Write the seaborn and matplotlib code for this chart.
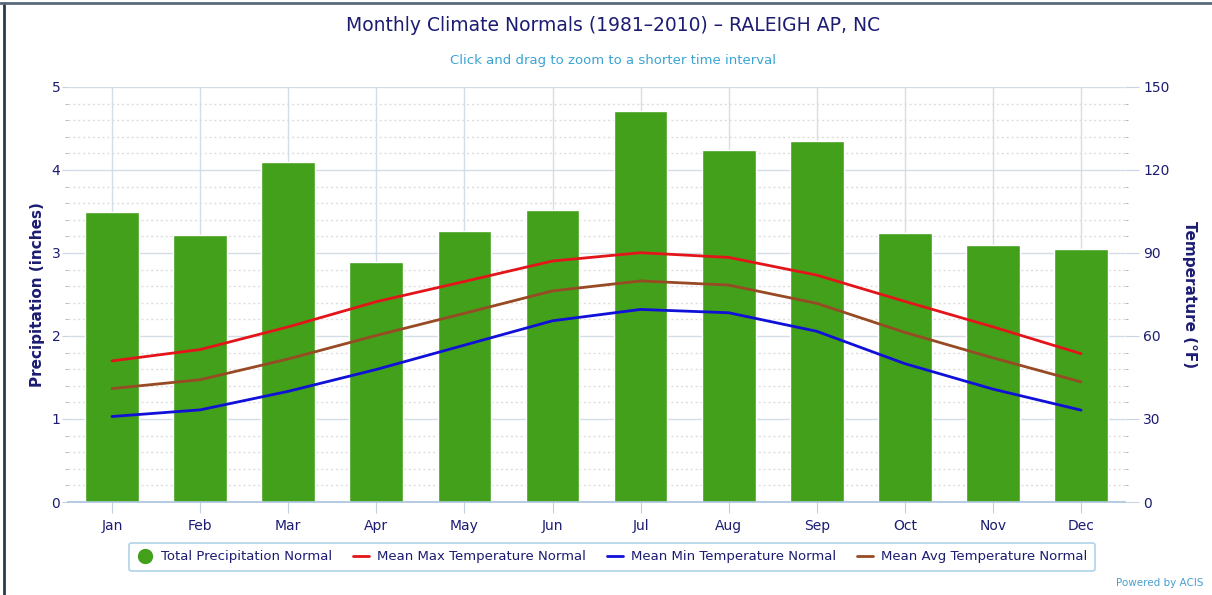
import numpy as np
import pandas as pd
import seaborn as sns
import matplotlib.pyplot as plt
from matplotlib.lines import Line2D
from matplotlib.ticker import MultipleLocator

sns.set_style("white")
plt.rcParams['font.family'] = ['DejaVu Sans']

months = ["Jan", "Feb", "Mar", "Apr", "May", "Jun",
          "Jul", "Aug", "Sep", "Oct", "Nov", "Dec"]
precip = [3.49, 3.22, 4.10, 2.89, 3.27, 3.52, 4.71, 4.24, 4.35, 3.24, 3.10, 3.05]
tmax = [51.0, 55.1, 63.3, 72.4, 79.7, 87.1, 90.1, 88.4, 82.0, 72.5, 63.3, 53.6]
tmin = [30.9, 33.3, 40.0, 47.9, 56.7, 65.5, 69.6, 68.4, 61.7, 50.0, 40.8, 33.2]
tavg = [41.0, 44.2, 51.7, 60.2, 68.2, 76.3, 79.9, 78.4, 71.8, 61.3, 52.1, 43.4]

green = "#43a01a"
red = "#e3151a"
blue = "#1010d8"
brown = "#974a24"
navy = "#1c1c72"
grid_c = "#d2dde8"

df = pd.DataFrame({"month": months, "pos": range(len(months)), "precip": precip,
                   "tmax": tmax, "tmin": tmin, "tavg": tavg})

fig = plt.figure(figsize=(12.12, 5.95), dpi=100)
ax = fig.add_axes([0.0561, 0.1563, 0.8722, 0.6975])

# precipitation bars
sns.barplot(data=df, x="month", y="precip", color=green, saturation=1,
            width=0.61, ax=ax, zorder=2)
ax.set_xlim(-0.5, len(months) - 0.5)
ax.set_ylim(0, 5)
ax.yaxis.set_major_locator(MultipleLocator(1))
ax.yaxis.set_minor_locator(MultipleLocator(0.2))
ax.set_axisbelow(True)
ax.grid(True, which="major", axis="both", color=grid_c, linewidth=1, zorder=0)
ax.grid(True, which="minor", axis="y", color="#dddddd", linewidth=1,
        linestyle=(0, (1.5, 2)), zorder=0)
for s in ["top", "left", "right"]:
    ax.spines[s].set_visible(False)
ax.spines["bottom"].set_color("#a8c4dc")
ax.spines["bottom"].set_linewidth(1.2)
ax.tick_params(axis="x", which="major", bottom=True, length=8, color="#c0d0e0",
               labelcolor=navy, labelsize=10, pad=4)
ax.tick_params(axis="y", which="major", left=True, length=4, color="#c8d4e0",
               labelcolor=navy, labelsize=10, pad=1.5)
ax.tick_params(axis="y", which="minor", left=True, length=2, color="#aaaaaa")
ax.set_xlabel("")
ax.set_ylabel("Precipitation (inches)", color=navy, fontsize=11,
              fontweight="bold", labelpad=5)

# temperature lines
ax2 = ax.twinx()
sns.lineplot(data=df, x="pos", y="tmax", color=red, linewidth=2, ax=ax2)
sns.lineplot(data=df, x="pos", y="tmin", color=blue, linewidth=2, ax=ax2)
sns.lineplot(data=df, x="pos", y="tavg", color=brown, linewidth=2, ax=ax2)
ax2.set_ylim(0, 150)
ax2.yaxis.set_major_locator(MultipleLocator(30))
ax2.yaxis.set_minor_locator(MultipleLocator(6))
for s in ax2.spines.values():
    s.set_visible(False)
ax2.tick_params(axis="y", which="major", right=True, length=10, color="#c8d4e0",
                labelcolor=navy, labelsize=10, pad=3)
ax2.tick_params(axis="y", which="minor", right=True, length=2, color="#aaaaaa")
ax2.set_xlabel("")
ax2.set_ylabel("Temperature (°F)", color=navy, fontsize=11, fontweight="bold",
               rotation=270, labelpad=20)
ax2.grid(False)

fig.text(0.506, 0.957, "Monthly Climate Normals (1981\u20132010) \u2013 RALEIGH AP, NC",
         ha="center", va="center", color=navy, fontsize=13.5)
fig.text(0.506, 0.899, "Click and drag to zoom to a shorter time interval",
         ha="center", va="center", color="#3ba4d4", fontsize=9.5)
fig.text(0.957, 0.012, "Powered by ACIS", ha="center", va="bottom",
         color="#4a9fd0", fontsize=7.5)

handles = [
    Line2D([], [], marker="o", linestyle="none", markersize=10, color=green),
    Line2D([], [], color=red, linewidth=2),
    Line2D([], [], color=blue, linewidth=2),
    Line2D([], [], color=brown, linewidth=2),
]
labels = ["Total Precipitation Normal", "Mean Max Temperature Normal",
          "Mean Min Temperature Normal", "Mean Avg Temperature Normal"]
leg = fig.legend(handles, labels, loc="center", bbox_to_anchor=(0.505, 0.064),
                 ncol=4, frameon=True, fancybox=True, fontsize=9.5,
                 handlelength=1.2, columnspacing=1.6, handletextpad=0.6,
                 borderpad=0.6, labelcolor=navy)
leg.get_frame().set_edgecolor("#9cc8e4")
leg.get_frame().set_linewidth(1.2)

# outer frame edges
fig.add_artist(Line2D([0.003, 0.003], [0, 0.995], transform=fig.transFigure,
                      color="#2b3a4a", linewidth=2))
fig.add_artist(Line2D([0, 1], [0.995, 0.995], transform=fig.transFigure,
                      color="#5a6a7a", linewidth=2))

fig.savefig("out.png", dpi=100)
